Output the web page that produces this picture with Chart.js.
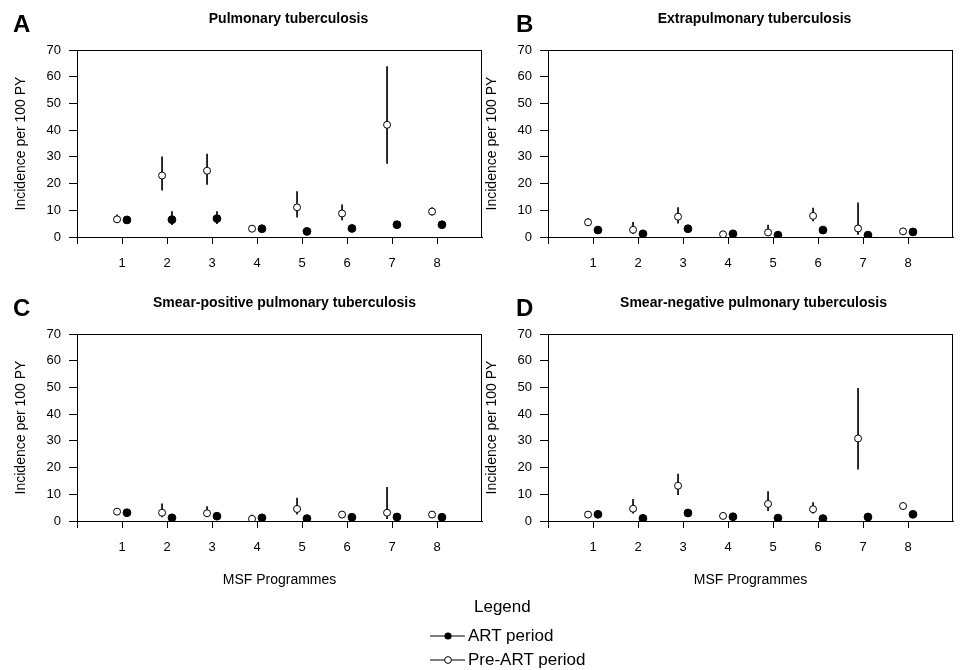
<!DOCTYPE html>
<html>
<head>
<meta charset="utf-8">
<script src="https://cdn.jsdelivr.net/npm/chart.js@4.4.1/dist/chart.umd.min.js"></script>
<style>
  body { margin: 0; background: #fff; width: 960px; height: 670px; position: relative; overflow: hidden;
         font-family: "Liberation Sans", Arial, sans-serif; color: #000; }
  canvas { position: absolute; }
  .lg { position: absolute; font-size: 17px; line-height: 20px; white-space: nowrap; }
</style>
</head>
<body>
<canvas id="chartA" width="494" height="280" style="left:0;top:0"></canvas>
<canvas id="chartB" width="494" height="280" style="left:471px;top:0"></canvas>
<canvas id="chartC" width="494" height="320" style="left:0;top:284px"></canvas>
<canvas id="chartD" width="494" height="320" style="left:471px;top:284px"></canvas>

<div class="lg" style="left:474px;top:597px">Legend</div>
<svg style="position:absolute;left:430px;top:630px" width="36" height="12">
  <line x1="0" y1="6" x2="35" y2="6" stroke="#000" stroke-width="1.2"/>
  <circle cx="18" cy="6" r="3.6" fill="#000"/>
</svg>
<div class="lg" style="left:468px;top:626px">ART period</div>
<svg style="position:absolute;left:430px;top:654px" width="36" height="12">
  <line x1="0" y1="6" x2="35" y2="6" stroke="#000" stroke-width="1.2"/>
  <circle cx="18" cy="6" r="3.4" fill="#fff" stroke="#000" stroke-width="1"/>
</svg>
<div class="lg" style="left:468px;top:650px">Pre-ART period</div>

<script>
// programmes on the x axis
const programmes = [1, 2, 3, 4, 5, 6, 7, 8];
const periods = ["ART period", "Pre-ART period"];

// A - pulmonary TB
const preA = [6.6, 23, 24.8, 3.1, 11.1, 8.8, 42, 9.5];
const preALow = [5.4, 17.5, 19.7, 2.3, 7.4, 6.4, 27.5, 8.2];
const preAHigh = [8.3, 30, 31, 4.2, 17, 12, 63.8, 11];
const artA = [6.4, 6.5, 6.9, 3.1, 2.1, 3.2, 4.6, 4.6];
const artALow = [5.5, 4.6, 5.0, 2.4, 1.5, 2.5, 3.8, 3.8];
const artAHigh = [7.4, 9.5, 9.5, 3.9, 2.9, 4.0, 5.5, 5.5];

// B - extrapulmonary TB
const preB = [5.5, 2.7, 7.6, 1.0, 1.7, 7.9, 3.2, 2.1];
const preBLow = [4.2, 1.2, 5.2, 0.3, 0.5, 6.0, 1.0, 1.3];
const preBHigh = [7.0, 5.5, 11, 2.2, 4.5, 10.8, 12.8, 3.2];
const artB = [2.6, 1.2, 3.1, 1.2, 0.7, 2.6, 0.7, 1.9];
const artBLow = [2.0, 0.7, 2.4, 0.7, 0.3, 2.0, 0.3, 1.3];
const artBHigh = [3.3, 1.9, 3.9, 1.8, 1.2, 3.3, 1.3, 2.6];

// C - smear-positive pulmonary TB
const preC = [3.5, 3.1, 2.9, 0.8, 4.5, 2.4, 3.1, 2.4];
const preCLow = [2.6, 1.5, 1.6, 0.2, 2.6, 1.5, 0.9, 1.6];
const preCHigh = [4.6, 6.4, 5.4, 2.2, 8.6, 3.6, 12.6, 3.4];
const artC = [3.1, 1.2, 1.8, 1.2, 0.9, 1.4, 1.5, 1.4];
const artCLow = [2.5, 0.8, 1.3, 0.8, 0.5, 1.0, 1.0, 0.9];
const artCHigh = [3.8, 1.7, 2.4, 1.7, 1.4, 1.9, 2.1, 2.0];

// D - smear-negative pulmonary TB
const preD = [2.4, 4.6, 13.2, 1.9, 6.4, 4.4, 30.9, 5.6];
const preDLow = [1.6, 2.9, 9.9, 1.1, 3.9, 2.9, 19.4, 4.5];
const preDHigh = [3.4, 8.1, 17.6, 2.9, 11, 6.9, 49.7, 6.8];
const artD = [2.5, 1.0, 3.0, 1.6, 1.1, 0.9, 1.5, 2.5];
const artDLow = [2.0, 0.6, 2.4, 1.1, 0.7, 0.5, 1.0, 1.9];
const artDHigh = [3.1, 1.5, 3.7, 2.2, 1.6, 1.4, 2.1, 3.2];

const FONT = '"Liberation Sans", Arial, sans-serif';
Chart.defaults.font.family = FONT;
Chart.defaults.color = "#000";

// pre-ART sits left of the programme tick, ART to the right
const dodge = 0.11;

// box round the plot, panel letter and title
const panelDecor = {
  id: "panelDecor",
  beforeDatasetsDraw(chart, args, opts) {
    const { ctx, chartArea: a } = chart;
    ctx.save();
    ctx.strokeStyle = "#000";
    ctx.lineWidth = 1;
    ctx.strokeRect(Math.round(a.left) + 0.5, Math.round(a.top) + 0.5,
      Math.round(a.right - a.left) - 1, Math.round(a.bottom - a.top));
    ctx.restore();
  },
  afterDraw(chart, args, opts) {
    const { ctx, chartArea: a } = chart;
    ctx.save();
    ctx.fillStyle = "#000";
    ctx.textBaseline = "middle";
    ctx.textAlign = "left";
    ctx.font = "bold 24px " + FONT;
    ctx.fillText(opts.letter, opts.letterX, a.top - 25);
    ctx.textAlign = "center";
    ctx.font = "bold 14px " + FONT;
    ctx.fillText(opts.title, (a.left + a.right) / 2 + opts.titleShift, a.top - 31);
    ctx.restore();
  },
};

function makePanel(id, letter, title, pre, preLow, preHigh, art, artLow, artHigh, extra) {
  const bottomRow = extra.bottomRow;
  return new Chart(document.getElementById(id), {
    type: "scatter",
    data: {
      datasets: [
        {
          type: "scatter",
          label: periods[0],
          data: programmes.map((p, i) => ({ x: p + dodge, y: art[i] })),
          pointRadius: 3.9,
          pointBackgroundColor: "#000",
          pointBorderColor: "#000",
          pointBorderWidth: 1,
          clip: 0,
          order: 0,
        },
        {
          type: "scatter",
          label: periods[1],
          data: programmes.map((p, i) => ({ x: p - dodge, y: pre[i] })),
          pointRadius: 3.5,
          pointBackgroundColor: "#fff",
          pointBorderColor: "#000",
          pointBorderWidth: 1,
          clip: 0,
          order: 0,
        },
        {
          type: "bar",
          label: "CI pre",
          data: programmes.map((p, i) => ({ x: p - dodge, y: [preLow[i], preHigh[i]] })),
          backgroundColor: "#000",
          borderWidth: 0,
          barThickness: 1,
          grouped: false,
          clip: 0,
          order: 1,
        },
        {
          type: "bar",
          label: "CI art",
          data: programmes.map((p, i) => ({ x: p + dodge, y: [artLow[i], artHigh[i]] })),
          backgroundColor: "#000",
          borderWidth: 0,
          barThickness: 1,
          grouped: false,
          clip: 0,
          order: 1,
        },
      ],
    },
    options: {
      responsive: false,
      animation: false,
      events: [],
      layout: { padding: { top: 50, right: 0, bottom: 0, left: 0 } },
      plugins: {
        legend: { display: false },
        tooltip: { enabled: false },
        panelDecor: { letter: letter, title: title, letterX: extra.letterX, titleShift: extra.titleShift },
      },
      scales: {
        x: {
          type: "linear",
          min: 0,
          max: 9,
          offset: false,
          afterFit: (axis) => { axis.height = bottomRow ? 83 : 43; },
          ticks: {
            stepSize: 1,
            autoSkip: false,
            maxRotation: 0,
            padding: 12,
            font: { size: 13 },
            callback: (v) => (programmes.includes(v) ? String(v) : ""),
          },
          grid: {
            offset: false,
            drawOnChartArea: false,
            drawTicks: true,
            tickLength: 7,
            color: (c) => (c.tick && c.tick.value === 9 ? "rgba(0,0,0,0)" : "#000"),
          },
          border: { display: true, color: "#000", width: 1 },
          title: {
            display: bottomRow,
            text: "MSF Programmes",
            font: { size: 14 },
            padding: { top: 0, bottom: 15 },
          },
        },
        y: {
          min: 0,
          max: 70,
          afterFit: (axis) => { axis.width = 77; },
          ticks: { stepSize: 10, padding: 8, font: { size: 13 } },
          grid: { drawOnChartArea: false, drawTicks: true, tickLength: 8, color: "#000" },
          border: { display: true, color: "#000", width: 1 },
          title: {
            display: true,
            text: "Incidence per 100 PY",
            font: { size: 14 },
            padding: { top: 13, bottom: 0 },
          },
        },
      },
    },
    plugins: [panelDecor],
  });
}

makePanel("chartA", "A", "Pulmonary tuberculosis", preA, preALow, preAHigh, artA, artALow, artAHigh,
  { bottomRow: false, letterX: 13, titleShift: 9 });
makePanel("chartB", "B", "Extrapulmonary tuberculosis", preB, preBLow, preBHigh, artB, artBLow, artBHigh,
  { bottomRow: false, letterX: 45, titleShift: 4 });
makePanel("chartC", "C", "Smear-positive pulmonary tuberculosis", preC, preCLow, preCHigh, artC, artCLow, artCHigh,
  { bottomRow: true, letterX: 13, titleShift: 5 });
makePanel("chartD", "D", "Smear-negative pulmonary tuberculosis", preD, preDLow, preDHigh, artD, artDLow, artDHigh,
  { bottomRow: true, letterX: 45, titleShift: 3 });
</script>
</body>
</html>
